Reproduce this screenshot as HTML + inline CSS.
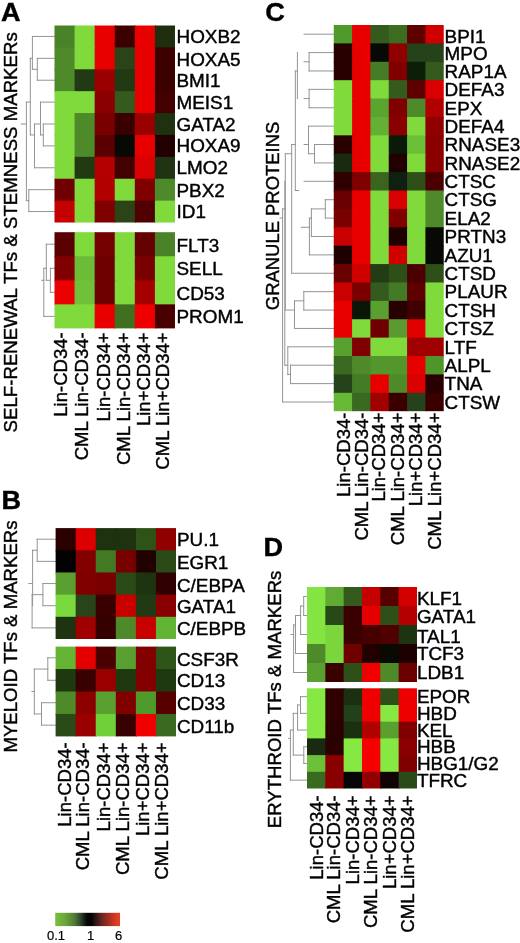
<!DOCTYPE html>
<html><head><meta charset="utf-8"><style>
html,body{margin:0;padding:0;background:#fff;}
svg{display:block;will-change:transform;}
text{font-family:"Liberation Sans", sans-serif;fill:#000;stroke:#000;stroke-width:0.4px;}
</style></head><body>
<svg width="520" height="943" viewBox="0 0 520 943">
<rect x="0" y="0" width="520" height="943" fill="#ffffff"/>
<path d="M32.40 36.45L54.50 36.45 M37.30 58.34L54.50 58.34 M37.30 80.22L54.50 80.22 M37.30 58.34L37.30 80.22 M32.40 69.28L37.30 69.28 M32.40 36.45L32.40 69.28 M30.30 58.34L32.40 58.34 M40.50 102.12L54.50 102.12 M43.30 124.00L54.50 124.00 M43.30 145.90L54.50 145.90 M43.30 124.00L43.30 145.90 M40.50 134.95L43.30 134.95 M40.50 102.12L40.50 134.95 M34.50 124.00L40.50 124.00 M34.50 167.78L54.50 167.78 M34.50 124.00L34.50 167.78 M30.30 134.95L34.50 134.95 M30.30 58.34L30.30 134.95 M26.40 102.12L30.30 102.12 M28.80 189.68L54.50 189.68 M28.80 211.56L54.50 211.56 M28.80 189.68L28.80 211.56 M26.40 200.62L28.80 200.62 M26.40 102.12L26.40 200.62 M21.20 124.00L26.40 124.00 M46.30 244.22L54.50 244.22 M50.40 268.27L54.50 268.27 M50.40 292.32L54.50 292.32 M50.40 268.27L50.40 292.32 M46.30 280.30L50.40 280.30 M46.30 244.22L46.30 280.30 M43.80 268.27L46.30 268.27 M43.80 316.38L54.50 316.38 M43.80 268.27L43.80 316.38 M41.70 280.30L43.80 280.30 M37.20 539.19L55.60 539.19 M37.20 561.37L55.60 561.37 M37.20 539.19L37.20 561.37 M32.60 550.28L37.20 550.28 M42.90 583.55L55.60 583.55 M42.90 605.73L55.60 605.73 M42.90 583.55L42.90 605.73 M32.10 594.64L42.90 594.64 M32.10 627.91L55.60 627.91 M32.10 594.64L32.10 627.91 M32.60 550.28L32.60 605.73 M28.70 583.55L32.60 583.55 M47.80 657.83L55.60 657.83 M47.80 680.27L55.60 680.27 M47.80 657.83L47.80 680.27 M34.30 669.05L47.80 669.05 M41.50 702.73L55.60 702.73 M41.50 725.18L55.60 725.18 M41.50 702.73L41.50 725.18 M34.30 713.95L41.50 713.95 M34.30 669.05L34.30 713.95 M31.90 691.50L34.30 691.50 M304.10 34.20L333.75 34.20 M309.10 52.59L333.75 52.59 M309.10 70.97L333.75 70.97 M309.10 52.59L309.10 70.97 M304.10 61.78L309.10 61.78 M309.10 89.37L333.75 89.37 M309.10 107.75L333.75 107.75 M309.10 89.37L309.10 107.75 M304.10 98.56L309.10 98.56 M308.50 126.15L333.75 126.15 M314.50 144.53L333.75 144.53 M314.50 162.93L333.75 162.93 M314.50 144.53L314.50 162.93 M308.50 153.73L314.50 153.73 M308.50 126.15L308.50 153.73 M304.10 144.53L308.50 144.53 M304.10 181.31L333.75 181.31 M325.30 199.71L333.75 199.71 M325.30 218.09L333.75 218.09 M325.30 199.71L325.30 218.09 M311.40 208.90L325.30 208.90 M311.40 236.49L333.75 236.49 M311.40 208.90L311.40 236.49 M309.40 218.09L311.40 218.09 M309.40 254.88L333.75 254.88 M309.40 218.09L309.40 254.88 M301.30 227.29L309.40 227.29 M291.70 273.26L333.75 273.26 M303.80 291.66L333.75 291.66 M303.80 310.05L333.75 310.05 M303.80 291.66L303.80 310.05 M294.50 300.85L303.80 300.85 M294.50 328.44L333.75 328.44 M294.50 300.85L294.50 328.44 M285.30 310.05L294.50 310.05 M287.80 346.82L333.75 346.82 M290.50 365.22L333.75 365.22 M290.50 383.61L333.75 383.61 M290.50 365.22L290.50 383.61 M287.80 374.41L290.50 374.41 M287.80 346.82L287.80 374.41 M284.80 365.22L287.80 365.22 M282.60 402.00L333.75 402.00 M297.40 52.59L297.40 98.56 M295.30 70.97L297.40 70.97 M295.30 70.97L295.30 190.51 M295.30 190.51L298.80 190.51 M291.70 144.53L295.30 144.53 M291.70 144.53L291.70 273.26 M285.30 153.73L291.70 153.73 M285.30 153.73L285.30 310.05 M284.80 181.31L284.80 365.22 M282.60 208.90L284.80 208.90 M282.60 208.90L282.60 402.00 M280.00 218.09L282.60 218.09 M303.70 596.50L307.00 596.50 M303.70 615.50L307.00 615.50 M303.70 596.50L303.70 615.50 M300.60 606.00L303.70 606.00 M300.60 634.50L307.00 634.50 M300.60 606.00L300.60 634.50 M295.50 615.50L300.60 615.50 M295.50 653.50L307.00 653.50 M295.50 615.50L295.50 653.50 M293.60 625.00L295.50 625.00 M293.60 672.50L307.00 672.50 M293.60 625.00L293.60 672.50 M290.90 634.50L293.60 634.50 M300.50 696.65L307.00 696.65 M300.50 713.35L307.00 713.35 M300.50 696.65L300.50 713.35 M297.60 705.00L300.50 705.00 M297.60 730.05L307.00 730.05 M297.60 705.00L297.60 730.05 M293.30 713.35L297.60 713.35 M303.80 746.75L307.00 746.75 M303.80 763.45L307.00 763.45 M303.80 746.75L303.80 763.45 M293.30 755.10L303.80 755.10 M293.30 713.35L293.30 755.10 M290.40 730.05L293.30 730.05 M290.40 780.15L307.00 780.15 M290.40 730.05L290.40 780.15 M288.60 738.40L290.40 738.40" stroke="#949494" stroke-width="1" fill="none" stroke-linecap="square"/>
<rect x="54.50" y="25.50" width="21.08" height="22.89" fill="#4a8228"/>
<rect x="74.58" y="25.50" width="21.08" height="22.89" fill="#80da3c"/>
<rect x="94.66" y="25.50" width="21.08" height="22.89" fill="#e80000"/>
<rect x="114.74" y="25.50" width="21.08" height="22.89" fill="#3c0000"/>
<rect x="134.82" y="25.50" width="21.08" height="22.89" fill="#e80000"/>
<rect x="154.90" y="25.50" width="20.08" height="22.89" fill="#1e2e0e"/>
<rect x="54.50" y="47.39" width="21.08" height="22.89" fill="#4e8a2a"/>
<rect x="74.58" y="47.39" width="21.08" height="22.89" fill="#80da3c"/>
<rect x="94.66" y="47.39" width="21.08" height="22.89" fill="#e80000"/>
<rect x="114.74" y="47.39" width="21.08" height="22.89" fill="#2a4418"/>
<rect x="134.82" y="47.39" width="21.08" height="22.89" fill="#e80000"/>
<rect x="154.90" y="47.39" width="20.08" height="22.89" fill="#3c0000"/>
<rect x="54.50" y="69.28" width="21.08" height="22.89" fill="#4e8a2a"/>
<rect x="74.58" y="69.28" width="21.08" height="22.89" fill="#223a14"/>
<rect x="94.66" y="69.28" width="21.08" height="22.89" fill="#9a0000"/>
<rect x="114.74" y="69.28" width="21.08" height="22.89" fill="#223a14"/>
<rect x="134.82" y="69.28" width="21.08" height="22.89" fill="#e80000"/>
<rect x="154.90" y="69.28" width="20.08" height="22.89" fill="#3c0000"/>
<rect x="54.50" y="91.17" width="21.08" height="22.89" fill="#80da3c"/>
<rect x="74.58" y="91.17" width="21.08" height="22.89" fill="#80da3c"/>
<rect x="94.66" y="91.17" width="21.08" height="22.89" fill="#8a0000"/>
<rect x="114.74" y="91.17" width="21.08" height="22.89" fill="#345a1e"/>
<rect x="134.82" y="91.17" width="21.08" height="22.89" fill="#e80000"/>
<rect x="154.90" y="91.17" width="20.08" height="22.89" fill="#420000"/>
<rect x="54.50" y="113.06" width="21.08" height="22.89" fill="#80da3c"/>
<rect x="74.58" y="113.06" width="21.08" height="22.89" fill="#4e8a2a"/>
<rect x="94.66" y="113.06" width="21.08" height="22.89" fill="#7a0000"/>
<rect x="114.74" y="113.06" width="21.08" height="22.89" fill="#3a0000"/>
<rect x="134.82" y="113.06" width="21.08" height="22.89" fill="#9a0000"/>
<rect x="154.90" y="113.06" width="20.08" height="22.89" fill="#1e3210"/>
<rect x="54.50" y="134.95" width="21.08" height="22.89" fill="#80da3c"/>
<rect x="74.58" y="134.95" width="21.08" height="22.89" fill="#4e8a2a"/>
<rect x="94.66" y="134.95" width="21.08" height="22.89" fill="#5a0000"/>
<rect x="114.74" y="134.95" width="21.08" height="22.89" fill="#080804"/>
<rect x="134.82" y="134.95" width="21.08" height="22.89" fill="#e80000"/>
<rect x="154.90" y="134.95" width="20.08" height="22.89" fill="#200000"/>
<rect x="54.50" y="156.84" width="21.08" height="22.89" fill="#80da3c"/>
<rect x="74.58" y="156.84" width="21.08" height="22.89" fill="#223a12"/>
<rect x="94.66" y="156.84" width="21.08" height="22.89" fill="#b40000"/>
<rect x="114.74" y="156.84" width="21.08" height="22.89" fill="#420000"/>
<rect x="134.82" y="156.84" width="21.08" height="22.89" fill="#d80000"/>
<rect x="154.90" y="156.84" width="20.08" height="22.89" fill="#203414"/>
<rect x="54.50" y="178.73" width="21.08" height="22.89" fill="#700000"/>
<rect x="74.58" y="178.73" width="21.08" height="22.89" fill="#80da3c"/>
<rect x="94.66" y="178.73" width="21.08" height="22.89" fill="#b00000"/>
<rect x="114.74" y="178.73" width="21.08" height="22.89" fill="#80da3c"/>
<rect x="134.82" y="178.73" width="21.08" height="22.89" fill="#800000"/>
<rect x="154.90" y="178.73" width="20.08" height="22.89" fill="#4e8a2a"/>
<rect x="54.50" y="200.62" width="21.08" height="21.89" fill="#c40000"/>
<rect x="74.58" y="200.62" width="21.08" height="21.89" fill="#80da3c"/>
<rect x="94.66" y="200.62" width="21.08" height="21.89" fill="#800000"/>
<rect x="114.74" y="200.62" width="21.08" height="21.89" fill="#2a4418"/>
<rect x="134.82" y="200.62" width="21.08" height="21.89" fill="#500000"/>
<rect x="154.90" y="200.62" width="20.08" height="21.89" fill="#80da3c"/>
<rect x="54.50" y="232.20" width="21.08" height="25.05" fill="#5a0000"/>
<rect x="74.58" y="232.20" width="21.08" height="25.05" fill="#80da3c"/>
<rect x="94.66" y="232.20" width="21.08" height="25.05" fill="#740000"/>
<rect x="114.74" y="232.20" width="21.08" height="25.05" fill="#80da3c"/>
<rect x="134.82" y="232.20" width="21.08" height="25.05" fill="#640000"/>
<rect x="154.90" y="232.20" width="20.08" height="25.05" fill="#4a8228"/>
<rect x="54.50" y="256.25" width="21.08" height="25.05" fill="#800000"/>
<rect x="74.58" y="256.25" width="21.08" height="25.05" fill="#6cbc38"/>
<rect x="94.66" y="256.25" width="21.08" height="25.05" fill="#6e0000"/>
<rect x="114.74" y="256.25" width="21.08" height="25.05" fill="#80da3c"/>
<rect x="134.82" y="256.25" width="21.08" height="25.05" fill="#7a0000"/>
<rect x="154.90" y="256.25" width="20.08" height="25.05" fill="#80da3c"/>
<rect x="54.50" y="280.30" width="21.08" height="25.05" fill="#ea0000"/>
<rect x="74.58" y="280.30" width="21.08" height="25.05" fill="#70c03a"/>
<rect x="94.66" y="280.30" width="21.08" height="25.05" fill="#6e0000"/>
<rect x="114.74" y="280.30" width="21.08" height="25.05" fill="#80da3c"/>
<rect x="134.82" y="280.30" width="21.08" height="25.05" fill="#a40000"/>
<rect x="154.90" y="280.30" width="20.08" height="25.05" fill="#80da3c"/>
<rect x="54.50" y="304.35" width="21.08" height="24.05" fill="#80da3c"/>
<rect x="74.58" y="304.35" width="21.08" height="24.05" fill="#80da3c"/>
<rect x="94.66" y="304.35" width="21.08" height="24.05" fill="#e80000"/>
<rect x="114.74" y="304.35" width="21.08" height="24.05" fill="#3e7020"/>
<rect x="134.82" y="304.35" width="21.08" height="24.05" fill="#ee0000"/>
<rect x="154.90" y="304.35" width="20.08" height="24.05" fill="#480000"/>
<text transform="translate(176.50,43.01) scale(1.05,1)" font-size="18">HOXB2</text>
<text transform="translate(176.50,65.90) scale(1.05,1)" font-size="18">HOXA5</text>
<text transform="translate(176.50,87.49) scale(1.05,1)" font-size="18">BMI1</text>
<text transform="translate(176.50,109.38) scale(1.05,1)" font-size="18">MEIS1</text>
<text transform="translate(176.50,130.57) scale(1.05,1)" font-size="18">GATA2</text>
<text transform="translate(176.50,152.46) scale(1.05,1)" font-size="18">HOXA9</text>
<text transform="translate(176.50,174.35) scale(1.05,1)" font-size="18">LMO2</text>
<text transform="translate(176.50,196.74) scale(1.05,1)" font-size="18">PBX2</text>
<text transform="translate(176.50,218.43) scale(1.05,1)" font-size="18">ID1</text>
<text transform="translate(176.50,251.59) scale(1.05,1)" font-size="18">FLT3</text>
<text transform="translate(176.50,274.84) scale(1.05,1)" font-size="18">SELL</text>
<text transform="translate(176.50,300.29) scale(1.05,1)" font-size="18">CD53</text>
<text transform="translate(176.50,323.34) scale(1.05,1)" font-size="18">PROM1</text>
<text transform="translate(67.10,332.30) rotate(-90) scale(1.03,1)" text-anchor="end" font-size="18">Lin-CD34-</text>
<text transform="translate(87.98,332.30) rotate(-90) scale(1.03,1)" text-anchor="end" font-size="18">CML Lin-CD34-</text>
<text transform="translate(109.76,332.30) rotate(-90) scale(1.03,1)" text-anchor="end" font-size="18">Lin-CD34+</text>
<text transform="translate(129.84,332.30) rotate(-90) scale(1.03,1)" text-anchor="end" font-size="18">CML Lin-CD34+</text>
<text transform="translate(149.62,332.30) rotate(-90) scale(1.03,1)" text-anchor="end" font-size="18">Lin+CD34+</text>
<text transform="translate(169.30,332.30) rotate(-90) scale(1.03,1)" text-anchor="end" font-size="18">CML Lin+CD34+</text>
<text transform="translate(17.00,432.40) rotate(-90)" font-size="18.65">SELF-RENEWAL TFs &amp; STEMNESS MARKERs</text>
<text transform="translate(1.00,20.80) scale(1.05,1)" font-size="25.8" font-weight="bold">A</text>
<rect x="55.60" y="528.10" width="21.07" height="23.18" fill="#2a0000"/>
<rect x="75.67" y="528.10" width="21.07" height="23.18" fill="#dc0000"/>
<rect x="95.74" y="528.10" width="21.07" height="23.18" fill="#1e3210"/>
<rect x="115.81" y="528.10" width="21.07" height="23.18" fill="#1e3210"/>
<rect x="135.88" y="528.10" width="21.07" height="23.18" fill="#2e5218"/>
<rect x="155.95" y="528.10" width="20.07" height="23.18" fill="#900000"/>
<rect x="55.60" y="550.28" width="21.07" height="23.18" fill="#020202"/>
<rect x="75.67" y="550.28" width="21.07" height="23.18" fill="#820000"/>
<rect x="95.74" y="550.28" width="21.07" height="23.18" fill="#427a24"/>
<rect x="115.81" y="550.28" width="21.07" height="23.18" fill="#780000"/>
<rect x="135.88" y="550.28" width="21.07" height="23.18" fill="#200000"/>
<rect x="155.95" y="550.28" width="20.07" height="23.18" fill="#2a4a18"/>
<rect x="55.60" y="572.46" width="21.07" height="23.18" fill="#5aa030"/>
<rect x="75.67" y="572.46" width="21.07" height="23.18" fill="#800000"/>
<rect x="95.74" y="572.46" width="21.07" height="23.18" fill="#7a0000"/>
<rect x="115.81" y="572.46" width="21.07" height="23.18" fill="#2a4a18"/>
<rect x="135.88" y="572.46" width="21.07" height="23.18" fill="#1e3410"/>
<rect x="155.95" y="572.46" width="20.07" height="23.18" fill="#300000"/>
<rect x="55.60" y="594.64" width="21.07" height="23.18" fill="#78d83c"/>
<rect x="75.67" y="594.64" width="21.07" height="23.18" fill="#284418"/>
<rect x="95.74" y="594.64" width="21.07" height="23.18" fill="#3a0000"/>
<rect x="115.81" y="594.64" width="21.07" height="23.18" fill="#c80000"/>
<rect x="135.88" y="594.64" width="21.07" height="23.18" fill="#223a14"/>
<rect x="155.95" y="594.64" width="20.07" height="23.18" fill="#8a0000"/>
<rect x="55.60" y="616.82" width="21.07" height="22.18" fill="#1e3410"/>
<rect x="75.67" y="616.82" width="21.07" height="22.18" fill="#a00000"/>
<rect x="95.74" y="616.82" width="21.07" height="22.18" fill="#360000"/>
<rect x="115.81" y="616.82" width="21.07" height="22.18" fill="#4e8a2a"/>
<rect x="135.88" y="616.82" width="21.07" height="22.18" fill="#c80000"/>
<rect x="155.95" y="616.82" width="20.07" height="22.18" fill="#62b434"/>
<rect x="55.60" y="646.60" width="21.07" height="23.45" fill="#66b434"/>
<rect x="75.67" y="646.60" width="21.07" height="23.45" fill="#e40000"/>
<rect x="95.74" y="646.60" width="21.07" height="23.45" fill="#4a0000"/>
<rect x="115.81" y="646.60" width="21.07" height="23.45" fill="#5aa030"/>
<rect x="135.88" y="646.60" width="21.07" height="23.45" fill="#820000"/>
<rect x="155.95" y="646.60" width="20.07" height="23.45" fill="#2e5418"/>
<rect x="55.60" y="669.05" width="21.07" height="23.45" fill="#1e3810"/>
<rect x="75.67" y="669.05" width="21.07" height="23.45" fill="#380000"/>
<rect x="95.74" y="669.05" width="21.07" height="23.45" fill="#9a0000"/>
<rect x="115.81" y="669.05" width="21.07" height="23.45" fill="#1e3810"/>
<rect x="135.88" y="669.05" width="21.07" height="23.45" fill="#840000"/>
<rect x="155.95" y="669.05" width="20.07" height="23.45" fill="#1e3810"/>
<rect x="55.60" y="691.50" width="21.07" height="23.45" fill="#4e8a2a"/>
<rect x="75.67" y="691.50" width="21.07" height="23.45" fill="#8c0000"/>
<rect x="95.74" y="691.50" width="21.07" height="23.45" fill="#5aa030"/>
<rect x="115.81" y="691.50" width="21.07" height="23.45" fill="#800000"/>
<rect x="135.88" y="691.50" width="21.07" height="23.45" fill="#4e9a2a"/>
<rect x="155.95" y="691.50" width="20.07" height="23.45" fill="#560000"/>
<rect x="55.60" y="713.95" width="21.07" height="22.45" fill="#2a4a18"/>
<rect x="75.67" y="713.95" width="21.07" height="22.45" fill="#9a0000"/>
<rect x="95.74" y="713.95" width="21.07" height="22.45" fill="#70d03a"/>
<rect x="115.81" y="713.95" width="21.07" height="22.45" fill="#380000"/>
<rect x="135.88" y="713.95" width="21.07" height="22.45" fill="#f00000"/>
<rect x="155.95" y="713.95" width="20.07" height="22.45" fill="#3a6a20"/>
<text transform="translate(176.90,546.45) scale(1.05,1)" font-size="18">PU.1</text>
<text transform="translate(176.90,569.13) scale(1.05,1)" font-size="18">EGR1</text>
<text transform="translate(176.90,591.91) scale(1.05,1)" font-size="18">C/EBPA</text>
<text transform="translate(176.90,613.09) scale(1.05,1)" font-size="18">GATA1</text>
<text transform="translate(176.90,635.37) scale(1.05,1)" font-size="18">C/EBPB</text>
<text transform="translate(176.90,666.09) scale(1.05,1)" font-size="18">CSF3R</text>
<text transform="translate(176.90,687.04) scale(1.05,1)" font-size="18">CD13</text>
<text transform="translate(176.90,710.39) scale(1.05,1)" font-size="18">CD33</text>
<text transform="translate(176.90,733.24) scale(1.05,1)" font-size="18">CD11b</text>
<text transform="translate(70.70,742.30) rotate(-90) scale(1.03,1)" text-anchor="end" font-size="18">Lin-CD34-</text>
<text transform="translate(89.07,742.30) rotate(-90) scale(1.03,1)" text-anchor="end" font-size="18">CML Lin-CD34-</text>
<text transform="translate(109.84,742.30) rotate(-90) scale(1.03,1)" text-anchor="end" font-size="18">Lin-CD34+</text>
<text transform="translate(129.21,742.30) rotate(-90) scale(1.03,1)" text-anchor="end" font-size="18">CML Lin-CD34+</text>
<text transform="translate(149.28,742.30) rotate(-90) scale(1.03,1)" text-anchor="end" font-size="18">Lin+CD34+</text>
<text transform="translate(167.55,742.30) rotate(-90) scale(1.03,1)" text-anchor="end" font-size="18">CML Lin+CD34+</text>
<text transform="translate(16.90,752.60) rotate(-90)" font-size="18.6">MYELOID TFs &amp; MARKERs</text>
<text transform="translate(1.50,508.60) scale(1.05,1)" font-size="25.8" font-weight="bold">B</text>
<rect x="333.75" y="25.00" width="19.33" height="19.39" fill="#4e9a2a"/>
<rect x="352.08" y="25.00" width="19.33" height="19.39" fill="#e80000"/>
<rect x="370.41" y="25.00" width="19.33" height="19.39" fill="#345a1e"/>
<rect x="388.74" y="25.00" width="19.33" height="19.39" fill="#3c6c22"/>
<rect x="407.07" y="25.00" width="19.33" height="19.39" fill="#5e0000"/>
<rect x="425.40" y="25.00" width="18.33" height="19.39" fill="#d00000"/>
<rect x="333.75" y="43.39" width="19.33" height="19.39" fill="#280000"/>
<rect x="352.08" y="43.39" width="19.33" height="19.39" fill="#e80000"/>
<rect x="370.41" y="43.39" width="19.33" height="19.39" fill="#080804"/>
<rect x="388.74" y="43.39" width="19.33" height="19.39" fill="#900000"/>
<rect x="407.07" y="43.39" width="19.33" height="19.39" fill="#25421a"/>
<rect x="425.40" y="43.39" width="18.33" height="19.39" fill="#25421a"/>
<rect x="333.75" y="61.78" width="19.33" height="19.39" fill="#280000"/>
<rect x="352.08" y="61.78" width="19.33" height="19.39" fill="#e80000"/>
<rect x="370.41" y="61.78" width="19.33" height="19.39" fill="#467c26"/>
<rect x="388.74" y="61.78" width="19.33" height="19.39" fill="#800000"/>
<rect x="407.07" y="61.78" width="19.33" height="19.39" fill="#0c1e08"/>
<rect x="425.40" y="61.78" width="18.33" height="19.39" fill="#345a1e"/>
<rect x="333.75" y="80.17" width="19.33" height="19.39" fill="#80da3c"/>
<rect x="352.08" y="80.17" width="19.33" height="19.39" fill="#e80000"/>
<rect x="370.41" y="80.17" width="19.33" height="19.39" fill="#80da3c"/>
<rect x="388.74" y="80.17" width="19.33" height="19.39" fill="#345a1e"/>
<rect x="407.07" y="80.17" width="19.33" height="19.39" fill="#5e0000"/>
<rect x="425.40" y="80.17" width="18.33" height="19.39" fill="#d80000"/>
<rect x="333.75" y="98.56" width="19.33" height="19.39" fill="#80da3c"/>
<rect x="352.08" y="98.56" width="19.33" height="19.39" fill="#e80000"/>
<rect x="370.41" y="98.56" width="19.33" height="19.39" fill="#5aa430"/>
<rect x="388.74" y="98.56" width="19.33" height="19.39" fill="#800000"/>
<rect x="407.07" y="98.56" width="19.33" height="19.39" fill="#4e8a2a"/>
<rect x="425.40" y="98.56" width="18.33" height="19.39" fill="#b00000"/>
<rect x="333.75" y="116.95" width="19.33" height="19.39" fill="#80da3c"/>
<rect x="352.08" y="116.95" width="19.33" height="19.39" fill="#e80000"/>
<rect x="370.41" y="116.95" width="19.33" height="19.39" fill="#62b034"/>
<rect x="388.74" y="116.95" width="19.33" height="19.39" fill="#8a0000"/>
<rect x="407.07" y="116.95" width="19.33" height="19.39" fill="#80da3c"/>
<rect x="425.40" y="116.95" width="18.33" height="19.39" fill="#900000"/>
<rect x="333.75" y="135.34" width="19.33" height="19.39" fill="#280000"/>
<rect x="352.08" y="135.34" width="19.33" height="19.39" fill="#e80000"/>
<rect x="370.41" y="135.34" width="19.33" height="19.39" fill="#80da3c"/>
<rect x="388.74" y="135.34" width="19.33" height="19.39" fill="#0a1a08"/>
<rect x="407.07" y="135.34" width="19.33" height="19.39" fill="#6cc038"/>
<rect x="425.40" y="135.34" width="18.33" height="19.39" fill="#8a0000"/>
<rect x="333.75" y="153.73" width="19.33" height="19.39" fill="#1a2a10"/>
<rect x="352.08" y="153.73" width="19.33" height="19.39" fill="#e80000"/>
<rect x="370.41" y="153.73" width="19.33" height="19.39" fill="#80da3c"/>
<rect x="388.74" y="153.73" width="19.33" height="19.39" fill="#200000"/>
<rect x="407.07" y="153.73" width="19.33" height="19.39" fill="#80da3c"/>
<rect x="425.40" y="153.73" width="18.33" height="19.39" fill="#8a0000"/>
<rect x="333.75" y="172.12" width="19.33" height="19.39" fill="#2e0000"/>
<rect x="352.08" y="172.12" width="19.33" height="19.39" fill="#800000"/>
<rect x="370.41" y="172.12" width="19.33" height="19.39" fill="#3a6420"/>
<rect x="388.74" y="172.12" width="19.33" height="19.39" fill="#102010"/>
<rect x="407.07" y="172.12" width="19.33" height="19.39" fill="#2e5018"/>
<rect x="425.40" y="172.12" width="18.33" height="19.39" fill="#4a0000"/>
<rect x="333.75" y="190.51" width="19.33" height="19.39" fill="#6a0000"/>
<rect x="352.08" y="190.51" width="19.33" height="19.39" fill="#e80000"/>
<rect x="370.41" y="190.51" width="19.33" height="19.39" fill="#80da3c"/>
<rect x="388.74" y="190.51" width="19.33" height="19.39" fill="#d80000"/>
<rect x="407.07" y="190.51" width="19.33" height="19.39" fill="#80da3c"/>
<rect x="425.40" y="190.51" width="18.33" height="19.39" fill="#4e8a2a"/>
<rect x="333.75" y="208.90" width="19.33" height="19.39" fill="#7a0000"/>
<rect x="352.08" y="208.90" width="19.33" height="19.39" fill="#e80000"/>
<rect x="370.41" y="208.90" width="19.33" height="19.39" fill="#80da3c"/>
<rect x="388.74" y="208.90" width="19.33" height="19.39" fill="#800000"/>
<rect x="407.07" y="208.90" width="19.33" height="19.39" fill="#80da3c"/>
<rect x="425.40" y="208.90" width="18.33" height="19.39" fill="#4e8a2a"/>
<rect x="333.75" y="227.29" width="19.33" height="19.39" fill="#c80000"/>
<rect x="352.08" y="227.29" width="19.33" height="19.39" fill="#e80000"/>
<rect x="370.41" y="227.29" width="19.33" height="19.39" fill="#80da3c"/>
<rect x="388.74" y="227.29" width="19.33" height="19.39" fill="#1e0000"/>
<rect x="407.07" y="227.29" width="19.33" height="19.39" fill="#80da3c"/>
<rect x="425.40" y="227.29" width="18.33" height="19.39" fill="#080804"/>
<rect x="333.75" y="245.68" width="19.33" height="19.39" fill="#1e0000"/>
<rect x="352.08" y="245.68" width="19.33" height="19.39" fill="#e80000"/>
<rect x="370.41" y="245.68" width="19.33" height="19.39" fill="#80da3c"/>
<rect x="388.74" y="245.68" width="19.33" height="19.39" fill="#d00000"/>
<rect x="407.07" y="245.68" width="19.33" height="19.39" fill="#80da3c"/>
<rect x="425.40" y="245.68" width="18.33" height="19.39" fill="#080804"/>
<rect x="333.75" y="264.07" width="19.33" height="19.39" fill="#6a0000"/>
<rect x="352.08" y="264.07" width="19.33" height="19.39" fill="#d00000"/>
<rect x="370.41" y="264.07" width="19.33" height="19.39" fill="#223c14"/>
<rect x="388.74" y="264.07" width="19.33" height="19.39" fill="#2e5018"/>
<rect x="407.07" y="264.07" width="19.33" height="19.39" fill="#4a0000"/>
<rect x="425.40" y="264.07" width="18.33" height="19.39" fill="#2e5018"/>
<rect x="333.75" y="282.46" width="19.33" height="19.39" fill="#c80000"/>
<rect x="352.08" y="282.46" width="19.33" height="19.39" fill="#7a0000"/>
<rect x="370.41" y="282.46" width="19.33" height="19.39" fill="#345a1e"/>
<rect x="388.74" y="282.46" width="19.33" height="19.39" fill="#447a26"/>
<rect x="407.07" y="282.46" width="19.33" height="19.39" fill="#5e0000"/>
<rect x="425.40" y="282.46" width="18.33" height="19.39" fill="#80da3c"/>
<rect x="333.75" y="300.85" width="19.33" height="19.39" fill="#e80000"/>
<rect x="352.08" y="300.85" width="19.33" height="19.39" fill="#0a1608"/>
<rect x="370.41" y="300.85" width="19.33" height="19.39" fill="#5aa030"/>
<rect x="388.74" y="300.85" width="19.33" height="19.39" fill="#280000"/>
<rect x="407.07" y="300.85" width="19.33" height="19.39" fill="#400000"/>
<rect x="425.40" y="300.85" width="18.33" height="19.39" fill="#80da3c"/>
<rect x="333.75" y="319.24" width="19.33" height="19.39" fill="#e80000"/>
<rect x="352.08" y="319.24" width="19.33" height="19.39" fill="#80da3c"/>
<rect x="370.41" y="319.24" width="19.33" height="19.39" fill="#700000"/>
<rect x="388.74" y="319.24" width="19.33" height="19.39" fill="#5a9a30"/>
<rect x="407.07" y="319.24" width="19.33" height="19.39" fill="#e00000"/>
<rect x="425.40" y="319.24" width="18.33" height="19.39" fill="#80da3c"/>
<rect x="333.75" y="337.63" width="19.33" height="19.39" fill="#58a030"/>
<rect x="352.08" y="337.63" width="19.33" height="19.39" fill="#800000"/>
<rect x="370.41" y="337.63" width="19.33" height="19.39" fill="#80da3c"/>
<rect x="388.74" y="337.63" width="19.33" height="19.39" fill="#80da3c"/>
<rect x="407.07" y="337.63" width="19.33" height="19.39" fill="#a00000"/>
<rect x="425.40" y="337.63" width="18.33" height="19.39" fill="#a00000"/>
<rect x="333.75" y="356.02" width="19.33" height="19.39" fill="#3a6a20"/>
<rect x="352.08" y="356.02" width="19.33" height="19.39" fill="#4e8a2a"/>
<rect x="370.41" y="356.02" width="19.33" height="19.39" fill="#52962c"/>
<rect x="388.74" y="356.02" width="19.33" height="19.39" fill="#52962c"/>
<rect x="407.07" y="356.02" width="19.33" height="19.39" fill="#e80000"/>
<rect x="425.40" y="356.02" width="18.33" height="19.39" fill="#4e962a"/>
<rect x="333.75" y="374.41" width="19.33" height="19.39" fill="#25421a"/>
<rect x="352.08" y="374.41" width="19.33" height="19.39" fill="#447c26"/>
<rect x="370.41" y="374.41" width="19.33" height="19.39" fill="#e80000"/>
<rect x="388.74" y="374.41" width="19.33" height="19.39" fill="#4e8a2a"/>
<rect x="407.07" y="374.41" width="19.33" height="19.39" fill="#d80000"/>
<rect x="425.40" y="374.41" width="18.33" height="19.39" fill="#280000"/>
<rect x="333.75" y="392.80" width="19.33" height="18.39" fill="#66b835"/>
<rect x="352.08" y="392.80" width="19.33" height="18.39" fill="#3a6a20"/>
<rect x="370.41" y="392.80" width="19.33" height="18.39" fill="#a00000"/>
<rect x="388.74" y="392.80" width="19.33" height="18.39" fill="#3a0000"/>
<rect x="407.07" y="392.80" width="19.33" height="18.39" fill="#25421a"/>
<rect x="425.40" y="392.80" width="18.33" height="18.39" fill="#3a0000"/>
<text transform="translate(444.60,42.56) scale(1.05,1)" font-size="18">BPI1</text>
<text transform="translate(444.60,59.90) scale(1.05,1)" font-size="18">MPO</text>
<text transform="translate(444.60,77.74) scale(1.05,1)" font-size="18">RAP1A</text>
<text transform="translate(444.60,96.13) scale(1.05,1)" font-size="18">DEFA3</text>
<text transform="translate(444.60,114.52) scale(1.05,1)" font-size="18">EPX</text>
<text transform="translate(444.60,132.91) scale(1.05,1)" font-size="18">DEFA4</text>
<text transform="translate(444.60,151.30) scale(1.05,1)" font-size="18">RNASE3</text>
<text transform="translate(444.60,169.69) scale(1.05,1)" font-size="18">RNASE2</text>
<text transform="translate(444.60,188.08) scale(1.05,1)" font-size="18">CTSC</text>
<text transform="translate(444.60,206.47) scale(1.05,1)" font-size="18">CTSG</text>
<text transform="translate(444.60,224.86) scale(1.05,1)" font-size="18">ELA2</text>
<text transform="translate(444.60,243.25) scale(1.05,1)" font-size="18">PRTN3</text>
<text transform="translate(444.60,261.64) scale(1.05,1)" font-size="18">AZU1</text>
<text transform="translate(444.60,280.03) scale(1.05,1)" font-size="18">CTSD</text>
<text transform="translate(444.60,298.42) scale(1.05,1)" font-size="18">PLAUR</text>
<text transform="translate(444.60,316.81) scale(1.05,1)" font-size="18">CTSH</text>
<text transform="translate(444.60,335.20) scale(1.05,1)" font-size="18">CTSZ</text>
<text transform="translate(444.60,353.59) scale(1.05,1)" font-size="18">LTF</text>
<text transform="translate(444.60,371.98) scale(1.05,1)" font-size="18">ALPL</text>
<text transform="translate(444.60,390.37) scale(1.05,1)" font-size="18">TNA</text>
<text transform="translate(444.60,408.76) scale(1.05,1)" font-size="18">CTSW</text>
<text transform="translate(350.48,412.50) rotate(-90) scale(1.03,1)" text-anchor="end" font-size="18">Lin-CD34-</text>
<text transform="translate(367.81,412.50) rotate(-90) scale(1.03,1)" text-anchor="end" font-size="18">CML Lin-CD34-</text>
<text transform="translate(385.14,412.50) rotate(-90) scale(1.03,1)" text-anchor="end" font-size="18">Lin-CD34+</text>
<text transform="translate(404.47,412.50) rotate(-90) scale(1.03,1)" text-anchor="end" font-size="18">CML Lin-CD34+</text>
<text transform="translate(422.30,412.50) rotate(-90) scale(1.03,1)" text-anchor="end" font-size="18">Lin+CD34+</text>
<text transform="translate(440.63,412.50) rotate(-90) scale(1.03,1)" text-anchor="end" font-size="18">CML Lin+CD34+</text>
<text transform="translate(278.50,310.20) rotate(-90)" font-size="18.45">GRANULE PROTEINS</text>
<text transform="translate(265.30,21.00) scale(1.05,1)" font-size="25.8" font-weight="bold">C</text>
<rect x="307.00" y="587.00" width="19.33" height="20.00" fill="#84e442"/>
<rect x="325.33" y="587.00" width="19.33" height="20.00" fill="#60ac32"/>
<rect x="343.66" y="587.00" width="19.33" height="20.00" fill="#345a1e"/>
<rect x="361.99" y="587.00" width="19.33" height="20.00" fill="#c40000"/>
<rect x="380.32" y="587.00" width="19.33" height="20.00" fill="#560000"/>
<rect x="398.65" y="587.00" width="18.33" height="20.00" fill="#d40000"/>
<rect x="307.00" y="606.00" width="19.33" height="20.00" fill="#84e442"/>
<rect x="325.33" y="606.00" width="19.33" height="20.00" fill="#284818"/>
<rect x="343.66" y="606.00" width="19.33" height="20.00" fill="#3a0000"/>
<rect x="361.99" y="606.00" width="19.33" height="20.00" fill="#e40000"/>
<rect x="380.32" y="606.00" width="19.33" height="20.00" fill="#2e5018"/>
<rect x="398.65" y="606.00" width="18.33" height="20.00" fill="#b40000"/>
<rect x="307.00" y="625.00" width="19.33" height="20.00" fill="#84e442"/>
<rect x="325.33" y="625.00" width="19.33" height="20.00" fill="#7ad63c"/>
<rect x="343.66" y="625.00" width="19.33" height="20.00" fill="#380000"/>
<rect x="361.99" y="625.00" width="19.33" height="20.00" fill="#460000"/>
<rect x="380.32" y="625.00" width="19.33" height="20.00" fill="#500000"/>
<rect x="398.65" y="625.00" width="18.33" height="20.00" fill="#1e3410"/>
<rect x="307.00" y="644.00" width="19.33" height="20.00" fill="#4e8a2a"/>
<rect x="325.33" y="644.00" width="19.33" height="20.00" fill="#7ad63c"/>
<rect x="343.66" y="644.00" width="19.33" height="20.00" fill="#700000"/>
<rect x="361.99" y="644.00" width="19.33" height="20.00" fill="#220000"/>
<rect x="380.32" y="644.00" width="19.33" height="20.00" fill="#0a0a04"/>
<rect x="398.65" y="644.00" width="18.33" height="20.00" fill="#1e0000"/>
<rect x="307.00" y="663.00" width="19.33" height="19.00" fill="#5aa030"/>
<rect x="325.33" y="663.00" width="19.33" height="19.00" fill="#3a0000"/>
<rect x="343.66" y="663.00" width="19.33" height="19.00" fill="#2e5018"/>
<rect x="361.99" y="663.00" width="19.33" height="19.00" fill="#f00000"/>
<rect x="380.32" y="663.00" width="19.33" height="19.00" fill="#4e8a2a"/>
<rect x="398.65" y="663.00" width="18.33" height="19.00" fill="#6a0000"/>
<rect x="307.00" y="688.30" width="19.33" height="17.70" fill="#86e842"/>
<rect x="325.33" y="688.30" width="19.33" height="17.70" fill="#300000"/>
<rect x="343.66" y="688.30" width="19.33" height="17.70" fill="#1a3010"/>
<rect x="361.99" y="688.30" width="19.33" height="17.70" fill="#ee0000"/>
<rect x="380.32" y="688.30" width="19.33" height="17.70" fill="#2e5018"/>
<rect x="398.65" y="688.30" width="18.33" height="17.70" fill="#ee0000"/>
<rect x="307.00" y="705.00" width="19.33" height="17.70" fill="#86e842"/>
<rect x="325.33" y="705.00" width="19.33" height="17.70" fill="#300000"/>
<rect x="343.66" y="705.00" width="19.33" height="17.70" fill="#22401a"/>
<rect x="361.99" y="705.00" width="19.33" height="17.70" fill="#ee0000"/>
<rect x="380.32" y="705.00" width="19.33" height="17.70" fill="#86e842"/>
<rect x="398.65" y="705.00" width="18.33" height="17.70" fill="#ee0000"/>
<rect x="307.00" y="721.70" width="19.33" height="17.70" fill="#86e842"/>
<rect x="325.33" y="721.70" width="19.33" height="17.70" fill="#2a0000"/>
<rect x="343.66" y="721.70" width="19.33" height="17.70" fill="#1a3010"/>
<rect x="361.99" y="721.70" width="19.33" height="17.70" fill="#b00000"/>
<rect x="380.32" y="721.70" width="19.33" height="17.70" fill="#5aa030"/>
<rect x="398.65" y="721.70" width="18.33" height="17.70" fill="#800000"/>
<rect x="307.00" y="738.40" width="19.33" height="17.70" fill="#1a2a10"/>
<rect x="325.33" y="738.40" width="19.33" height="17.70" fill="#2a0000"/>
<rect x="343.66" y="738.40" width="19.33" height="17.70" fill="#86e842"/>
<rect x="361.99" y="738.40" width="19.33" height="17.70" fill="#f40000"/>
<rect x="380.32" y="738.40" width="19.33" height="17.70" fill="#86e842"/>
<rect x="398.65" y="738.40" width="18.33" height="17.70" fill="#8a0000"/>
<rect x="307.00" y="755.10" width="19.33" height="17.70" fill="#6cc03a"/>
<rect x="325.33" y="755.10" width="19.33" height="17.70" fill="#8a0000"/>
<rect x="343.66" y="755.10" width="19.33" height="17.70" fill="#86e842"/>
<rect x="361.99" y="755.10" width="19.33" height="17.70" fill="#f40000"/>
<rect x="380.32" y="755.10" width="19.33" height="17.70" fill="#86e842"/>
<rect x="398.65" y="755.10" width="18.33" height="17.70" fill="#800000"/>
<rect x="307.00" y="771.80" width="19.33" height="16.70" fill="#3a6a20"/>
<rect x="325.33" y="771.80" width="19.33" height="16.70" fill="#8a0000"/>
<rect x="343.66" y="771.80" width="19.33" height="16.70" fill="#050505"/>
<rect x="361.99" y="771.80" width="19.33" height="16.70" fill="#900000"/>
<rect x="380.32" y="771.80" width="19.33" height="16.70" fill="#100404"/>
<rect x="398.65" y="771.80" width="18.33" height="16.70" fill="#2a4a18"/>
<text transform="translate(416.90,604.86) scale(1.05,1)" font-size="18">KLF1</text>
<text transform="translate(416.90,622.96) scale(1.05,1)" font-size="18">GATA1</text>
<text transform="translate(416.90,642.66) scale(1.05,1)" font-size="18">TAL1</text>
<text transform="translate(416.90,660.16) scale(1.05,1)" font-size="18">TCF3</text>
<text transform="translate(416.90,679.06) scale(1.05,1)" font-size="18">LDB1</text>
<text transform="translate(416.90,703.21) scale(1.05,1)" font-size="18">EPOR</text>
<text transform="translate(416.90,719.91) scale(1.05,1)" font-size="18">HBD</text>
<text transform="translate(416.90,736.61) scale(1.05,1)" font-size="18">KEL</text>
<text transform="translate(416.90,753.31) scale(1.05,1)" font-size="18">HBB</text>
<text transform="translate(416.90,770.01) scale(1.05,1)" font-size="18">HBG1/G2</text>
<text transform="translate(416.90,786.71) scale(1.05,1)" font-size="18">TFRC</text>
<text transform="translate(322.73,795.30) rotate(-90) scale(1.03,1)" text-anchor="end" font-size="18">Lin-CD34-</text>
<text transform="translate(340.06,795.30) rotate(-90) scale(1.03,1)" text-anchor="end" font-size="18">CML Lin-CD34-</text>
<text transform="translate(359.39,795.30) rotate(-90) scale(1.03,1)" text-anchor="end" font-size="18">Lin-CD34+</text>
<text transform="translate(377.22,795.30) rotate(-90) scale(1.03,1)" text-anchor="end" font-size="18">CML Lin-CD34+</text>
<text transform="translate(395.55,795.30) rotate(-90) scale(1.03,1)" text-anchor="end" font-size="18">Lin+CD34+</text>
<text transform="translate(414.38,795.30) rotate(-90) scale(1.03,1)" text-anchor="end" font-size="18">CML Lin+CD34+</text>
<text transform="translate(281.00,828.20) rotate(-90)" font-size="18.6">ERYTHROID TFs &amp; MARKERs</text>
<text transform="translate(263.50,556.30) scale(1.05,1)" font-size="25.8" font-weight="bold">D</text>
<defs><linearGradient id="ck" x1="0" x2="1" y1="0" y2="0">
<stop offset="0" stop-color="#7abe3c"/><stop offset="0.15" stop-color="#6aa838"/><stop offset="0.3" stop-color="#4e7a36"/>
<stop offset="0.4" stop-color="#2e3e2c"/><stop offset="0.48" stop-color="#0a0a08"/><stop offset="0.55" stop-color="#000000"/>
<stop offset="0.62" stop-color="#2a1412"/><stop offset="0.72" stop-color="#6a2620"/><stop offset="0.85" stop-color="#b03020"/>
<stop offset="0.95" stop-color="#e03a22"/><stop offset="1" stop-color="#e04424"/>
</linearGradient></defs>
<rect x="55.2" y="912.8" width="64.8" height="13.3" fill="url(#ck)"/>
<text x="47" y="940.2" font-size="13" style="stroke-width:0.2px">0.1</text>
<text x="87" y="940.2" font-size="13" style="stroke-width:0.2px">1</text>
<text x="115.1" y="940.2" font-size="13" style="stroke-width:0.2px">6</text>
</svg>
</body></html>
